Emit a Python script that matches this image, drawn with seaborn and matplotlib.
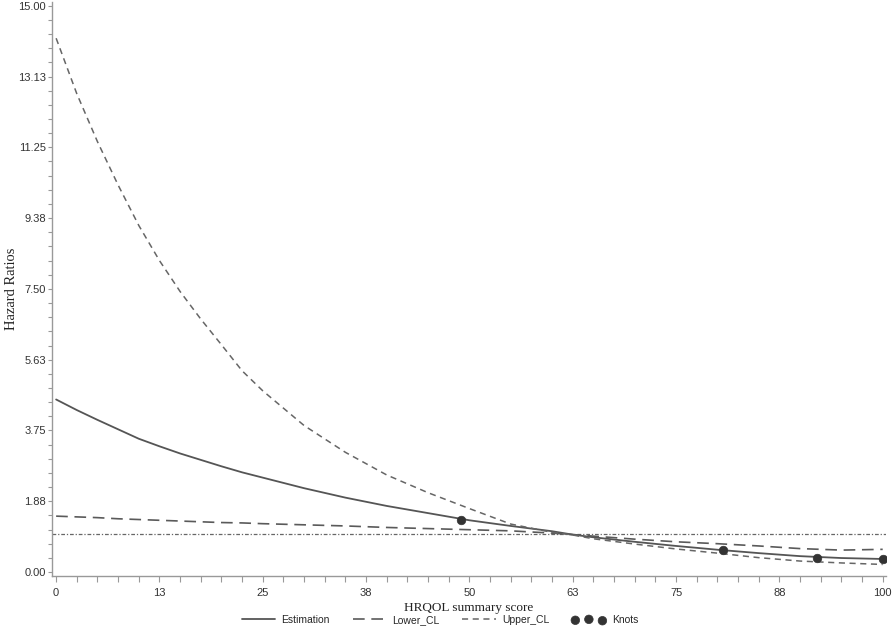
import numpy as np
import pandas as pd
import seaborn as sns
import matplotlib.pyplot as plt
from matplotlib.ticker import MultipleLocator

# values
score = [0, 2.5, 5, 7.5, 10, 12.5, 15, 17.5, 20, 22.5, 25, 30, 35, 40, 45,
         50, 55, 60, 62.5, 65, 70, 75, 80, 85, 90, 95, 100]
estimation = [4.57, 4.29, 4.03, 3.78, 3.53, 3.33, 3.14, 2.97, 2.80, 2.64, 2.50,
              2.22, 1.97, 1.75, 1.56, 1.37, 1.22, 1.08, 0.99, 0.92, 0.80, 0.69,
              0.59, 0.50, 0.42, 0.37, 0.345]
lower_cl = [1.48, 1.46, 1.44, 1.41, 1.39, 1.37, 1.35, 1.33, 1.31, 1.30, 1.28,
            1.25, 1.22, 1.18, 1.15, 1.12, 1.09, 1.03, 0.99, 0.95, 0.87, 0.80,
            0.75, 0.69, 0.62, 0.58, 0.60]
upper_cl = [14.14, 12.67, 11.40, 10.25, 9.18, 8.25, 7.43, 6.70, 6.02, 5.33, 4.80,
            3.88, 3.17, 2.57, 2.10, 1.68, 1.27, 1.05, 0.98, 0.88, 0.74, 0.61,
            0.50, 0.38, 0.29, 0.24, 0.20]
knot_x = [49.0, 80.7, 92.0, 100.0]
knot_y = [1.39, 0.575, 0.38, 0.345]
ref_hr = 1.0

x_ticks = [0, 12.5, 25, 37.5, 50, 62.5, 75, 87.5, 100]
x_labels = ["0", "13", "25", "38", "50", "63", "75", "88", "100"]
y_ticks = [0, 1.875, 3.75, 5.625, 7.5, 9.375, 11.25, 13.125, 15]
y_labels = ["0.00", "1.88", "3.75", "5.63", "7.50", "9.38", "11.25", "13.13", "15.00"]

df = pd.DataFrame({"score": score, "Estimation": estimation,
                   "Lower_CL": lower_cl, "Upper_CL": upper_cl})

sns.set_style("ticks")
plt.rcParams['font.family'] = ['Liberation Sans', 'DejaVu Sans']

fig = plt.figure(figsize=(8.94, 6.36), dpi=100)
ax = fig.add_axes([52 / 894, 1 - 576 / 636, 834 / 894, 574 / 636])

# reference line at HR = 1
ax.axhline(ref_hr, color="#666666", lw=0.9, linestyle=(0, (3, 1.5, 1, 1.5)), zorder=1)

sns.lineplot(data=df, x="score", y="Estimation", ax=ax, color="#555555",
             lw=1.3, label="Estimation", errorbar=None)
sns.lineplot(data=df, x="score", y="Lower_CL", ax=ax, color="#5a5a5a",
             lw=1.2, linestyle=(0, (7, 4)), label="Lower_CL", errorbar=None)
sns.lineplot(data=df, x="score", y="Upper_CL", ax=ax, color="#666666",
             lw=1.1, linestyle=(0, (4, 3)), label="Upper_CL", errorbar=None)
sns.scatterplot(x=knot_x, y=knot_y, ax=ax, color="#333333", s=38,
                edgecolor="#333333", label="Knots", zorder=5)

ax.set_xlim(-0.5, 100.4)
ax.set_ylim(-0.106, 15.1)
ax.set_xticks(x_ticks)
ax.set_xticklabels(x_labels)
ax.set_yticks(y_ticks)
ax.set_yticklabels(y_labels)
ax.xaxis.set_minor_locator(MultipleLocator(2.5))
ax.yaxis.set_minor_locator(MultipleLocator(0.375))

for side in ["top", "right"]:
    ax.spines[side].set_visible(False)
for side in ["left", "bottom"]:
    ax.spines[side].set_color("#999999")
    ax.spines[side].set_linewidth(1.0)
ax.tick_params(which="both", width=0.8, color="#999999",
               labelsize=8, labelcolor="#333333")
ax.tick_params(axis="y", which="both", length=3, pad=1.5)
ax.tick_params(axis="x", which="both", length=4, pad=5)

ax.set_xlabel("HRQOL summary score", family="Liberation Serif", fontsize=9.5,
              color="#222222")
ax.xaxis.set_label_coords(0.5, -0.045)
ax.set_ylabel("Hazard Ratios", family="Liberation Serif", fontsize=10.5,
              color="#222222", va="center")
ax.yaxis.set_label_coords(-0.048, 0.5)

handles, labels = ax.get_legend_handles_labels()
ax.legend(handles, labels, loc="center", bbox_to_anchor=(440 / 894, 1 - 620 / 636),
          bbox_transform=fig.transFigure, ncol=4, frameon=False, fontsize=7.5,
          handlelength=3.2, columnspacing=2.2, scatterpoints=3, handletextpad=0.6)

fig.savefig("out.png", dpi=100)
